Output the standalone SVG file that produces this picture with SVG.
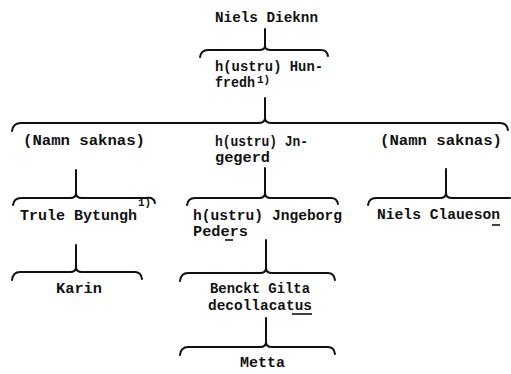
<svg xmlns="http://www.w3.org/2000/svg" width="511" height="374" viewBox="0 0 511 374">
<style>
text{font-family:"Liberation Mono","DejaVu Sans Mono",monospace;font-weight:bold;font-size:14px;fill:#111}
.sup{font-size:11px}
.c path,.c line{stroke:#111;stroke-width:2;fill:none;stroke-linecap:round}
.u{stroke:#111;stroke-width:1.6}
</style>
<rect width="511" height="374" fill="#fff"/>
<g class="c" id="connectors">
<line x1="265" y1="29" x2="265" y2="47"/>
<path d="M200,57 Q201,50 208,50 L259,50 Q265,50 265,46 Q265,50 271,50 L321,50 Q327,50 328,56"/>
<line x1="265" y1="98" x2="265" y2="119"/>
<path d="M12,131 Q13,123 21,123 L258,123 Q265,123 265,118 Q265,123 272,123 L500,123 Q507,123 508,130"/>
<line x1="76" y1="170" x2="76" y2="194"/>
<path d="M13,205 Q14,198 21,198 L70,198 Q76,198 76,193 Q76,198 82,198 L146,198 Q154,197 155,203"/>
<line x1="265" y1="168" x2="265" y2="194"/>
<path d="M187,205 Q188,198 195,198 L259,198 Q265,198 265,193 Q265,198 271,198 L331,198 Q337,198 338,204"/>
<line x1="446" y1="169" x2="446" y2="194"/>
<path d="M368,205 Q369,198 376,198 L440,198 Q446,198 446,193 Q446,198 452,198 L510,198"/>
<line x1="76" y1="245" x2="76" y2="268"/>
<path d="M12,280 Q13,272 20,272 L70,272 Q76,272 76,267 Q76,272 82,272 L135,272 Q141,272 142,279"/>
<line x1="266" y1="240" x2="266" y2="269"/>
<path d="M180,281 Q181,273 188,273 L260,273 Q266,273 266,268 Q266,273 272,273 L328,273 Q334,273 335,280"/>
<line x1="266" y1="318" x2="266" y2="343"/>
<path d="M180,355 Q181,347 188,347 L260,347 Q266,347 266,342 Q266,347 272,347 L328,347 Q334,347 335,354"/>
</g>
<g id="niels-dieknn"><text x="215" y="22" textLength="103" lengthAdjust="spacingAndGlyphs">Niels Dieknn</text></g>
<g id="hunfredh">
<text x="215" y="71" textLength="108" lengthAdjust="spacingAndGlyphs">h(ustru) Hun-</text>
<text x="215" y="87" textLength="40" lengthAdjust="spacingAndGlyphs">fredh</text>
<text class="sup" x="257" y="83">1)</text>
</g>
<g id="namn-saknas-1"><text x="23" y="145" textLength="122" lengthAdjust="spacingAndGlyphs">(Namn saknas)</text></g>
<g id="jngegerd">
<text x="215" y="146" textLength="93" lengthAdjust="spacingAndGlyphs">h(ustru) Jn-</text>
<text x="215" y="162" textLength="55" lengthAdjust="spacingAndGlyphs">gegerd</text>
</g>
<g id="namn-saknas-2"><text x="380" y="145" textLength="122" lengthAdjust="spacingAndGlyphs">(Namn saknas)</text></g>
<g id="trule-bytungh">
<text x="20" y="220" textLength="117" lengthAdjust="spacingAndGlyphs">Trule Bytungh</text>
<text class="sup" x="138" y="206">1)</text>
</g>
<g id="jngeborg">
<text x="193" y="220" textLength="149" lengthAdjust="spacingAndGlyphs">h(ustru) Jngeborg</text>
<text x="193" y="236" textLength="55" lengthAdjust="spacingAndGlyphs">Peders</text>
<line class="u" x1="225" y1="240" x2="233" y2="240"/>
</g>
<g id="niels-claueson">
<text x="377" y="219" textLength="123" lengthAdjust="spacingAndGlyphs">Niels Claueson</text>
<line class="u" x1="492" y1="225" x2="500" y2="225"/>
</g>
<g id="karin"><text x="56" y="293" textLength="46" lengthAdjust="spacingAndGlyphs">Karin</text></g>
<g id="benckt-gilta">
<text x="210" y="293" textLength="100" lengthAdjust="spacingAndGlyphs">Benckt Gilta</text>
<text x="208" y="310" textLength="104" lengthAdjust="spacingAndGlyphs">decollacatus</text>
<line class="u" x1="292" y1="314" x2="312" y2="314"/>
</g>
<g id="metta"><text x="240" y="367" textLength="45" lengthAdjust="spacingAndGlyphs">Metta</text></g>
</svg>
